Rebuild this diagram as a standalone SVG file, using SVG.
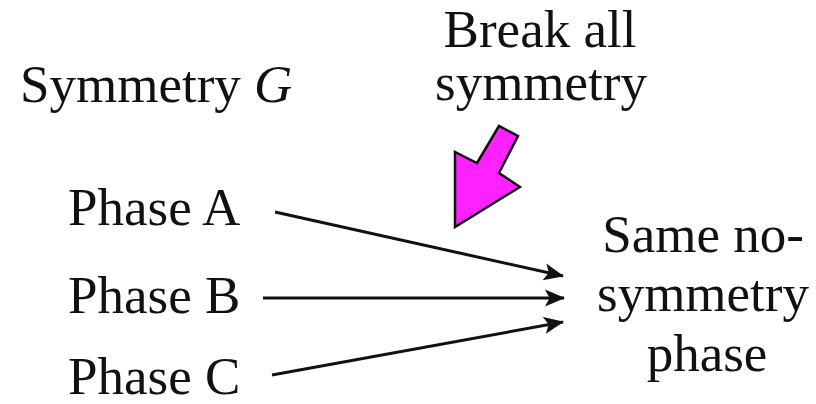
<svg xmlns="http://www.w3.org/2000/svg" width="816" height="404" viewBox="0 0 816 404">
<style>
text{font-family:"Liberation Serif","Times New Roman",serif;font-size:53px;fill:#111}
.c{text-anchor:middle}
.ln{stroke:#111;stroke-width:3;fill:none;marker-end:url(#ah)}
</style>
<defs>
<marker id="ah" markerUnits="userSpaceOnUse" markerWidth="20" markerHeight="20" viewBox="0 0 20 20" refX="19" refY="10" orient="auto">
<path d="M0,1.5 L20,10 L0,18.5 L4.5,10 Z" fill="#111"/>
</marker>
</defs>
<rect width="816" height="404" fill="#fff"/>
<g id="symmetry-label"><text x="20" y="102">Symmetry <tspan font-style="italic">G</tspan></text></g>
<g id="break-label"><text class="c" x="540" y="47">Break all</text><text class="c" x="541" y="100">symmetry</text></g>
<g id="break-arrow"><polygon points="455,227 455,152 477,163 499,126 518,136 499,173 520,187" fill="#ff22ff" stroke="#111" stroke-width="2.5" stroke-linejoin="miter"/></g>
<g id="phase-a"><text x="68" y="225">Phase A</text></g>
<g id="phase-b"><text x="68" y="313">Phase B</text></g>
<g id="phase-c"><text x="68" y="394">Phase C</text></g>
<g id="same"><text class="c" x="703" y="252">Same no-</text><text class="c" x="703" y="311">symmetry</text><text class="c" x="707" y="371">phase</text></g>
<g id="connectors">
<line class="ln" x1="275" y1="212" x2="563" y2="276"/>
<line class="ln" x1="263" y1="298" x2="564" y2="298"/>
<line class="ln" x1="272" y1="375" x2="563" y2="322"/>
</g>
</svg>
